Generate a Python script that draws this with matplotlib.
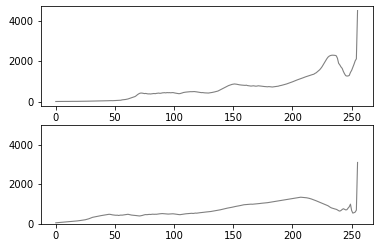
import matplotlib
matplotlib.use("Agg")
import matplotlib.pyplot as plt
import numpy as np

levels = list(range(256))

hist_top = [
    15, 16, 15, 17, 16, 18, 17, 18, 19, 18, 20, 19, 21, 20, 22, 21,
    22, 23, 22, 24, 25, 24, 26, 27, 26, 28, 29, 30, 29, 31, 32, 33,
    34, 35, 36, 38, 37, 40, 42, 43, 45, 47, 48, 50, 52, 55, 57, 58,
    55, 58, 60, 62, 65, 68, 72, 78, 95, 100, 108, 115, 125, 140, 160, 180,
    200, 215, 235, 260, 300, 350, 390, 420, 432, 428, 415, 405, 412, 398, 388, 392,
    385, 395, 405, 410, 400, 415, 420, 430, 418, 425, 440, 445, 450, 440, 455, 448,
    452, 445, 450, 455, 440, 430, 420, 410, 400, 405, 420, 440, 460, 470, 478, 482,
    490, 495, 500, 498, 502, 505, 500, 490, 480, 470, 460, 452, 455, 445, 440, 438,
    435, 432, 440, 450, 460, 470, 485, 500, 510, 530, 560, 590, 620, 650, 680, 710,
    740, 770, 800, 820, 840, 860, 870, 880, 875, 865, 850, 840, 830, 825, 820, 815,
    810, 820, 800, 790, 780, 775, 785, 790, 780, 770, 775, 790, 785, 780, 770, 760,
    755, 750, 745, 740, 750, 745, 735, 730, 740, 745, 755, 760, 770, 790, 800, 815,
    830, 845, 860, 880, 900, 920, 945, 965, 985, 1010, 1030, 1060, 1080, 1100, 1120, 1140,
    1160, 1185, 1210, 1230, 1250, 1270, 1290, 1310, 1330, 1345, 1360, 1400, 1430, 1480, 1530, 1580,
    1650, 1730, 1830, 1930, 2030, 2120, 2200, 2250, 2280, 2295, 2300, 2295, 2290, 2270, 2150, 1900,
    1820, 1720, 1650, 1500, 1380, 1290, 1270, 1275, 1300, 1450, 1550, 1700, 1850, 2020, 2120, 4500,
]

hist_bottom = [
    60, 65, 70, 75, 80, 85, 90, 95, 100, 102, 108, 112, 118, 122, 128, 132,
    138, 145, 155, 165, 170, 178, 185, 195, 205, 215, 230, 245, 265, 290, 310, 335,
    350, 360, 370, 385, 395, 410, 420, 430, 440, 455, 465, 475, 480, 490, 485, 470,
    460, 450, 445, 440, 445, 430, 440, 450, 445, 455, 460, 470, 480, 490, 475, 460,
    450, 445, 440, 430, 425, 415, 410, 405, 415, 430, 450, 465, 475, 470, 480, 485,
    480, 490, 495, 488, 492, 490, 500, 505, 515, 520, 525, 520, 515, 510, 505, 500,
    505, 510, 520, 515, 510, 500, 490, 480, 475, 470, 480, 490, 500, 510, 515, 520,
    525, 530, 535, 540, 530, 540, 550, 545, 555, 560, 570, 575, 580, 590, 600, 605,
    610, 615, 620, 630, 640, 650, 660, 670, 680, 690, 700, 715, 730, 745, 760, 775,
    790, 800, 810, 820, 830, 845, 860, 875, 885, 895, 905, 915, 930, 945, 960, 970,
    975, 980, 985, 990, 995, 1000, 995, 1000, 1005, 1010, 1020, 1025, 1030, 1040, 1045, 1050,
    1055, 1060, 1070, 1075, 1085, 1090, 1100, 1110, 1120, 1130, 1140, 1150, 1160, 1170, 1180, 1190,
    1200, 1210, 1225, 1235, 1245, 1260, 1270, 1280, 1290, 1300, 1310, 1320, 1330, 1340, 1345, 1350,
    1345, 1340, 1335, 1330, 1320, 1310, 1295, 1280, 1260, 1235, 1215, 1195, 1170, 1145, 1115, 1090,
    1065, 1040, 1015, 995, 975, 950, 920, 880, 840, 810, 790, 770, 755, 740, 710, 670,
    650, 680, 730, 770, 740, 710, 720, 800, 870, 1000, 680, 550, 570, 600, 700, 3100,
]

fig = plt.figure(figsize=(382 / 72, 241 / 72), dpi=72)
ax1 = fig.add_axes([0.1065, 0.560, 0.869, 0.415])
ax2 = fig.add_axes([0.1065, 0.0705, 0.869, 0.412])

ax1.plot(levels, hist_top, color="gray", linewidth=1.1)
ax2.plot(levels, hist_bottom, color="gray", linewidth=1.1)
ax2.set_ylim(0, 5000)

for ax in (ax1, ax2):
    ax.set_xticks([0, 50, 100, 150, 200, 250])
    ax.set_yticks([0, 2000, 4000])
    ax.tick_params(labelsize=10)

fig.savefig("out.png", dpi=72)
